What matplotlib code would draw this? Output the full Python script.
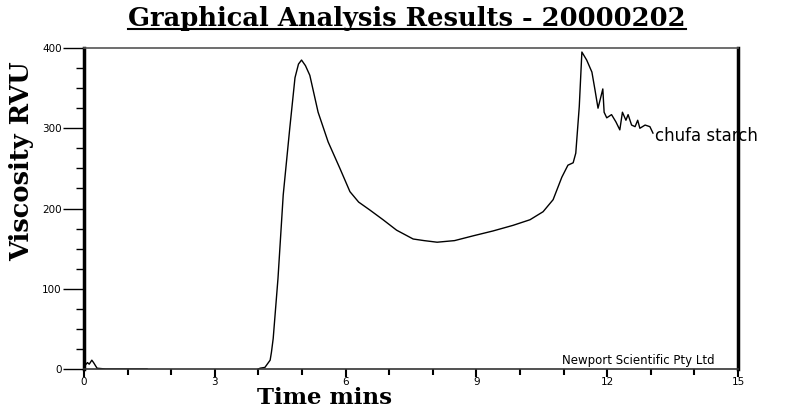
import numpy as np
import matplotlib
matplotlib.use('Agg')
import matplotlib.pyplot as plt
from matplotlib.ticker import MultipleLocator

# RVA pasting curve, chufa starch run
time_min = [0.0, 0.08, 0.12, 0.18, 0.22, 0.3, 0.5, 1.0, 1.45, 1.5, 3.9, 4.0,
            4.04, 4.15, 4.27, 4.3, 4.34, 4.45, 4.57, 4.72, 4.84, 4.92, 4.99,
            5.08, 5.18, 5.37, 5.6, 5.87, 6.1, 6.3, 6.56, 6.86, 7.17, 7.55,
            7.8, 8.1, 8.5, 8.93, 9.38, 9.84, 10.23, 10.53, 10.76, 10.96,
            11.1, 11.22, 11.28, 11.36, 11.42, 11.53, 11.65, 11.72, 11.79,
            11.85, 11.9, 11.93, 11.99, 12.1, 12.2, 12.29, 12.35, 12.43,
            12.48, 12.56, 12.64, 12.7, 12.75, 12.87, 12.98, 13.05]
viscosity = [3, 8, 6, 11, 8, 1, 0, 0, 0, -3, -3, 0,
             1, 2, 11, 21, 38, 113, 217, 300, 363, 380, 385,
             378, 366, 320, 283, 250, 221, 208, 198, 186, 173, 162,
             160, 158, 160, 166, 172, 179, 186, 196, 211, 239,
             254, 257, 269, 327, 395, 385, 370, 348, 325,
             338, 349, 320, 313, 317, 308, 298, 320, 310,
             317, 304, 302, 310, 300, 304, 302, 294]

sample_name = 'chufa starch'
title = 'Graphical Analysis Results - 20000202'

fig = plt.figure(figsize=(7.87, 4.09), dpi=100)
ax = fig.add_axes([0.1067, 0.0978, 0.831, 0.7848])

ax.plot(time_min, viscosity, color='black', lw=1.0)

ax.set_xlim(0, 15)
ax.set_ylim(0, 400)
ax.xaxis.set_major_locator(MultipleLocator(3))
ax.xaxis.set_minor_locator(MultipleLocator(1))
ax.yaxis.set_major_locator(MultipleLocator(100))
ax.yaxis.set_minor_locator(MultipleLocator(25))
ax.tick_params(axis='y', which='major', length=15, width=1, direction='out',
               labelsize=7.5, pad=1)
ax.tick_params(axis='y', which='minor', length=6, width=1, direction='out')
ax.tick_params(axis='x', which='major', length=6, width=1.5, direction='out',
               labelsize=7.5, pad=0)
ax.tick_params(axis='x', which='minor', length=4, width=1.5, direction='out')

for side in ['left', 'right']:
    ax.spines[side].set_linewidth(2.5)
    ax.spines[side].set_color('black')
ax.spines['top'].set_linewidth(1.2)
ax.spines['top'].set_color('#555555')
ax.spines['bottom'].set_linewidth(1.2)
ax.spines['bottom'].set_color('#333333')

# sample label at the end of the trace
ax.text(time_min[-1] + 0.05, viscosity[-1] - 4, sample_name, fontsize=12,
        family='DejaVu Sans', va='center', ha='left', clip_on=False, zorder=1)
ax.text(10.96, 3, 'Newport Scientific Pty Ltd', fontsize=8.5,
        family='DejaVu Sans', va='bottom', ha='left')

fig.text(0.412, 0.012, 'Time mins', family='DejaVu Serif', fontweight='bold',
         fontsize=16.5, ha='center', va='baseline')
fig.text(0.028, 0.606, 'Viscosity RVU', rotation=90, family='DejaVu Serif',
         fontweight='bold', fontsize=18.5, ha='center', va='center')
t = fig.text(0.517, 0.955, title, family='DejaVu Serif', fontweight='bold',
             fontsize=18.5, ha='center', va='center')

# underline the title across its drawn width
fig.canvas.draw()
bb = t.get_window_extent().transformed(fig.transFigure.inverted())
fig.add_artist(plt.Line2D([bb.x0, bb.x1], [bb.y0 + 0.004, bb.y0 + 0.004],
                          color='black', lw=1.5, transform=fig.transFigure))

fig.savefig('out.png', dpi=100)
